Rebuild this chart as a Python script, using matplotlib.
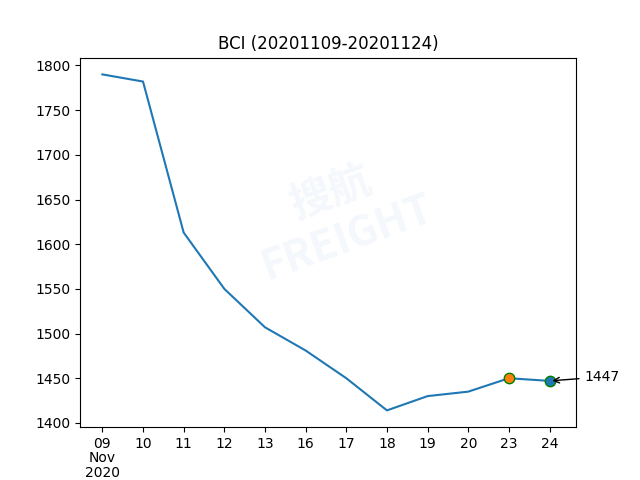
import matplotlib
matplotlib.use("Agg")
import matplotlib.pyplot as plt

days = ["09", "10", "11", "12", "13", "16", "17", "18", "19", "20", "23", "24"]
tick_labels = ["09\nNov\n2020"] + days[1:]
values = [1790, 1782, 1613, 1550, 1507, 1481, 1450, 1414, 1430, 1435, 1450, 1447]
title = "BCI (20201109-20201124)"

fig, ax = plt.subplots(figsize=(6.4, 4.8), dpi=100)
x = list(range(len(values)))
ax.plot(x, values, color="C0")
ax.plot(x[-2], values[-2], "o", markerfacecolor="C1", markeredgecolor="green", markersize=7.5)
ax.plot(x[-1], values[-1], "o", markerfacecolor="C0", markeredgecolor="green", markersize=7.5)
ax.annotate(str(values[-1]), xy=(x[-1], values[-1]), xytext=(35, 0), textcoords="offset pixels",
            arrowprops=dict(arrowstyle="->", color="black"), va="baseline")
ax.set_xticks(x)
ax.set_xticklabels(tick_labels)
ax.get_xticklabels()[0].set_linespacing(1.05)
ax.set_xlim(-0.55, len(values) - 1 + 0.65)
ax.set_title(title)

# faint watermark
fig.text(0.53, 0.55, "搜航\nFREIGHT", fontsize=30, color="#f4f7fb", rotation=20,
         ha="center", va="center", family=["Noto Sans CJK SC", "DejaVu Sans"],
         fontweight="bold", zorder=0, style="italic")

fig.savefig("out.png", dpi=100)
